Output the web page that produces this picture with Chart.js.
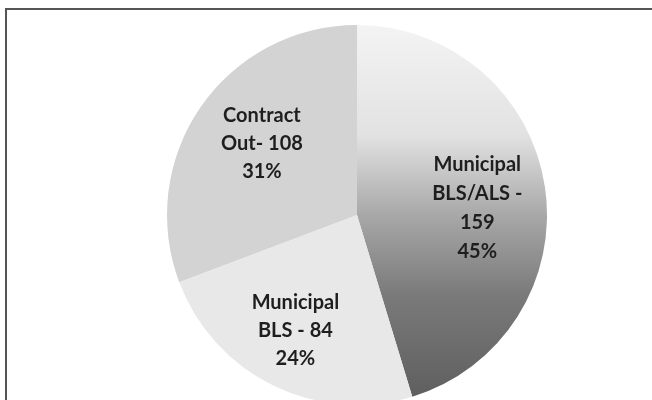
<!DOCTYPE html>
<html>
<head>
<meta charset="utf-8">
<script src="https://cdn.jsdelivr.net/npm/chart.js@4"></script>
<style>
  html, body { margin: 0; padding: 0; background: #fff; overflow: hidden; }
  body { width: 652px; height: 400px; position: relative; }
  #frame { position: absolute; left: 5px; top: 8px; width: 700px; height: 440px;
           border-top: 2px solid #555; border-left: 2px solid #555; }
  #wrap { position: absolute; left: 157px; top: 15px; width: 400px; height: 400px; }
</style>
</head>
<body>
<div id="frame"></div>
<div id="wrap"><canvas id="pie" width="400" height="400"></canvas></div>
<script>
const categories = ['Municipal BLS/ALS', 'Municipal BLS', 'Contract Out']
const counts = [159, 84, 108]
const percents = ['45%', '24%', '31%']
const labelLines = [
  ['Municipal', 'BLS/ALS -', '159', '45%'],
  ['Municipal', 'BLS - 84', '24%'],
  ['Contract', 'Out- 108', '31%'],
]
const flatColors = [null, '#e8e8e8', '#d3d3d3']
// small nudges so the labels sit where the original put them
const nudgeX = [0, -8, 5]
const nudgeY = [11, 6, -2]

// the dark slice fades out towards the top in the scan
const sliceColor = (ctx) => {
  if (ctx.dataIndex !== 0) return flatColors[ctx.dataIndex]
  const area = ctx.chart.chartArea
  if (!area) return '#8a8a8a'
  const g = ctx.chart.ctx.createLinearGradient(0, area.top, 0, area.bottom)
  g.addColorStop(0, '#f5f5f5')
  g.addColorStop(0.3, '#e2e2e2')
  g.addColorStop(0.5, '#a8a8a8')
  g.addColorStop(0.7, '#7a7a7a')
  g.addColorStop(1, '#5a5a5a')
  return g
}

const sliceLabels = {
  id: 'sliceLabels',
  afterDatasetsDraw(chart) {
    const c = chart.ctx
    const arcs = chart.getDatasetMeta(0).data
    c.save()
    c.font = 'bold 20px Lato'
    c.fillStyle = '#1e1e1e'
    c.textAlign = 'center'
    c.textBaseline = 'middle'
    arcs.forEach((arc, i) => {
      const mid = (arc.startAngle + arc.endAngle) / 2
      const r = arc.outerRadius * 0.64
      const x = arc.x + Math.cos(mid) * r + nudgeX[i]
      const y = arc.y + Math.sin(mid) * r + nudgeY[i]
      const lines = labelLines[i]
      const lh = i === 0 ? 29 : 28
      lines.forEach((t, j) => {
        c.fillText(t, x, y + (j - (lines.length - 1) / 2) * lh)
      })
    })
    c.restore()
  }
}

new Chart(document.getElementById('pie'), {
  type: 'pie',
  data: {
    labels: categories,
    datasets: [{
      data: counts,
      backgroundColor: sliceColor,
      borderWidth: 0
    }]
  },
  options: {
    responsive: false,
    animation: false,
    radius: 190,
    rotation: 0,
    layout: { padding: 0 },
    plugins: {
      legend: { display: false },
      tooltip: { enabled: false }
    }
  },
  plugins: [sliceLabels]
})
</script>
</body>
</html>
